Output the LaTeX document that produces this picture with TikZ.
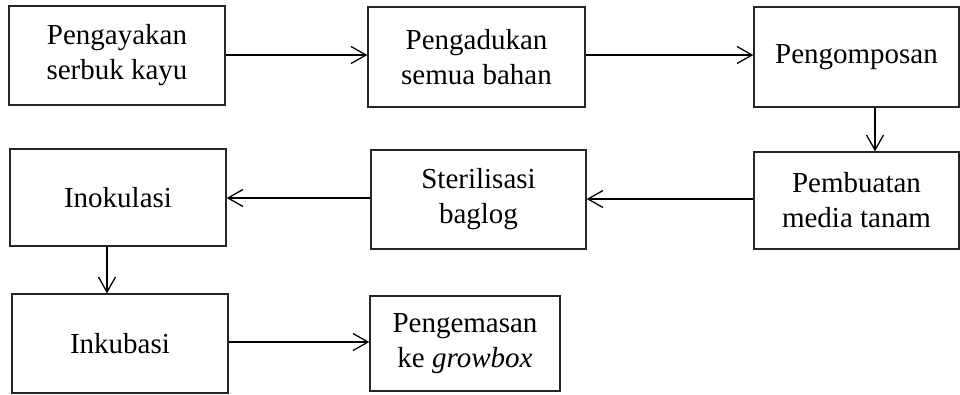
\documentclass[tikz,border=0pt]{standalone}
\usepackage{fontspec}
\setmainfont{Liberation Serif}
\usetikzlibrary{arrows.meta}
\begin{document}
\begin{tikzpicture}[x=1pt,y=-1pt,
  stepbox/.style={draw=black!85, line width=1.3pt, inner sep=0pt, align=center,
    font=\fontsize{29}{35}\selectfont},
  flow/.style={line width=1.3pt, -{Straight Barb[length=15pt,width=17pt,line width=1.3pt]}}]
\useasboundingbox (0,0) rectangle (960,394);
\node[stepbox, minimum width=216pt, minimum height=99pt] (b1) at (117,55.5) {Pengayakan\\serbuk kayu};
\node[stepbox, minimum width=217pt, minimum height=100pt] (b2) at (476.5,57) {Pengadukan\\semua bahan};
\node[stepbox, minimum width=205pt, minimum height=100pt] (b3) at (856.5,57) {Pengomposan};
\node[stepbox, minimum width=205pt, minimum height=97pt] (b4) at (856.5,200.5) {Pembuatan\\media tanam};
\node[stepbox, minimum width=215pt, minimum height=99pt] (b5) at (478.5,199.5) {Sterilisasi\\baglog};
\node[stepbox, minimum width=216pt, minimum height=97pt] (b6) at (118,197.5) {Inokulasi};
\node[stepbox, minimum width=216pt, minimum height=99pt] (b7) at (120,343.5) {Inkubasi};
\node[stepbox, minimum width=190pt, minimum height=95pt] (b8) at (465,343.5) {Pengemasan\\ke \textit{growbox}};
\draw[flow] (b1.east |- 0,55) -- (b2.west |- 0,55);
\draw[flow] (b2.east |- 0,55) -- (b3.west |- 0,55);
\draw[flow] (b3.south -| 875,0) -- (b4.north -| 875,0);
\draw[flow] (b4.west |- 0,199) -- (b5.east |- 0,199);
\draw[flow] (b5.west |- 0,198) -- (b6.east |- 0,198);
\draw[flow] (b6.south -| 107,0) -- (b7.north -| 107,0);
\draw[flow] (b7.east |- 0,342) -- (b8.west |- 0,342);
\end{tikzpicture}
\end{document}
